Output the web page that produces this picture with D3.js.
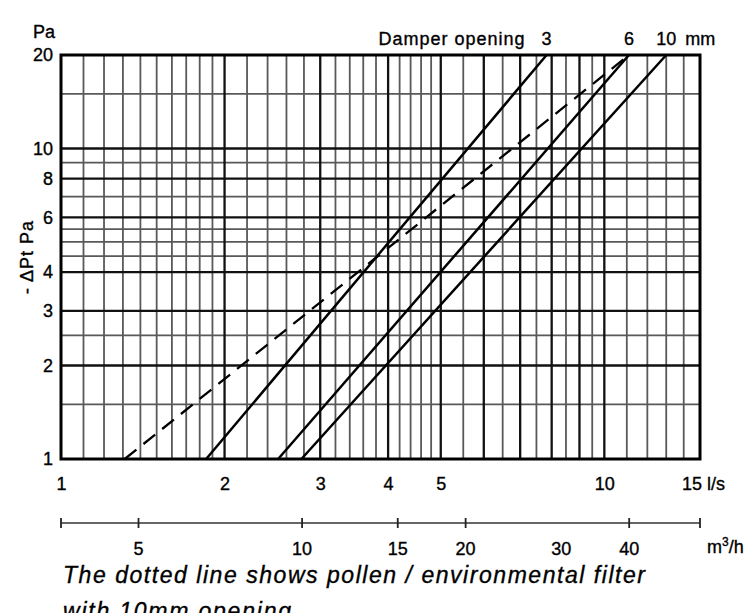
<!DOCTYPE html>
<html>
<head>
<meta charset="utf-8">
<script src="https://cdn.jsdelivr.net/npm/d3@7"></script>
<style>
body { margin: 0; background: #fff; }
svg { display: block; font-family: "Liberation Sans", Arial, sans-serif; }
svg text { fill: #000; stroke: #000; stroke-width: 0.35px; }
</style>
</head>
<body>
<svg></svg>
<script>
// ====== données ====== //
// débit (l/s) - axe horizontal
const flowLabels = [1, 2, 3, 4, 5, 10];
const flowMajor = [2, 3, 4, 5, 6, 7, 8, 9, 10];
const flowMinor = [1.1, 1.2, 1.3, 1.4, 1.5, 1.6, 1.7, 1.8, 1.9,
                   2.2, 2.4, 2.6, 2.8, 3.2, 3.4, 3.6, 3.8,
                   4.2, 4.4, 4.6, 4.8, 5.5, 6.5, 7.5, 8.5, 9.5,
                   11, 12, 13, 14];

// pression (Pa) - axe vertical
const pressureLabels = [1, 2, 3, 4, 6, 8, 10, 20];
const pressureMajor = [2, 3, 4, 6, 8, 10];
const pressureMinor = [1.5, 2.5, 4.5, 5, 5.5, 7, 9, 15];

// second axe en m3/h
const m3hTicks = [5, 10, 15, 20, 40];
const m3hLabels = [5, 10, 15, 20, 30, 40];

// courbes [débit l/s, pression Pa]
const damperOpening = ["3", "6", "10"];
const damper3 = [[1.85, 1], [7.83, 20]];
const damper6 = [[2.51, 1], [11.1, 20]];
const damper10 = [[2.77, 1], [13.0, 20]];
const pollenFilter = [[1.31, 1], [11.1, 20]];   // ligne pointillée

// ====== constantes ====== //
const width = 753;
const height = 613;

const svg = d3.select("svg")
    .attr("width", width)
    .attr("height", height);

const x = d3.scaleLog().domain([1, 15]).range([61, 700]);
const y = d3.scaleLog().domain([1, 20]).range([459, 55]);
const xm = d3.scaleLog().domain([3.6, 54]).range([61, 700]); // 1 l/s = 3.6 m3/h

// grille mineure
const grid = svg.append("g");
grid.selectAll(".vmin").data(flowMinor).enter().append("line")
    .attr("x1", d => x(d)).attr("x2", d => x(d))
    .attr("y1", y(1)).attr("y2", y(20))
    .attr("stroke", "#595959").attr("stroke-width", 1.8);
grid.selectAll(".hmin").data(pressureMinor).enter().append("line")
    .attr("x1", x(1)).attr("x2", x(15))
    .attr("y1", d => y(d)).attr("y2", d => y(d))
    .attr("stroke", "#595959").attr("stroke-width", 1.8);

// grille majeure
grid.selectAll(".vmaj").data(flowMajor).enter().append("line")
    .attr("x1", d => x(d)).attr("x2", d => x(d))
    .attr("y1", y(1)).attr("y2", y(20))
    .attr("stroke", "#111").attr("stroke-width", 2.3);
grid.selectAll(".hmaj").data(pressureMajor).enter().append("line")
    .attr("x1", x(1)).attr("x2", x(15))
    .attr("y1", d => y(d)).attr("y2", d => y(d))
    .attr("stroke", "#111").attr("stroke-width", 2.3);

// cadre
svg.append("rect")
    .attr("x", x(1)).attr("y", y(20))
    .attr("width", x(15) - x(1)).attr("height", y(1) - y(20))
    .attr("fill", "none").attr("stroke", "#000").attr("stroke-width", 3);

// courbes
const line = d3.line().x(d => x(d[0])).y(d => y(d[1]));
const curves = [damper3, damper6, damper10];
svg.selectAll(".curve").data(curves).enter().append("path")
    .attr("d", line)
    .attr("fill", "none").attr("stroke", "#000").attr("stroke-width", 2.5);
svg.append("path")
    .attr("d", line(pollenFilter))
    .attr("fill", "none").attr("stroke", "#000").attr("stroke-width", 2.3)
    .attr("stroke-dasharray", "15,9");

// axe Y
const yAxis = svg.append("g")
    .attr("transform", `translate(${x(1)},0)`)
    .call(d3.axisLeft(y).tickValues(pressureLabels).tickSize(0).tickPadding(8).tickFormat(d3.format("d")));
yAxis.select(".domain").remove();
yAxis.selectAll("text").attr("font-size", 18)
    .attr("font-family", "Liberation Sans, Arial, sans-serif");

svg.append("text").attr("x", 55).attr("y", 38).attr("text-anchor", "end")
    .attr("font-size", 18).text("Pa");
svg.append("text")
    .attr("transform", "translate(33,257) rotate(-90)")
    .attr("text-anchor", "middle").attr("font-size", 18)
    .attr("letter-spacing", 1)
    .text("- \u0394Pt Pa");

// axe X (l/s)
const xAxis = svg.append("g")
    .attr("transform", `translate(0,${y(1)})`)
    .call(d3.axisBottom(x).tickValues(flowLabels).tickSize(0).tickPadding(18).tickFormat(d3.format("d")));
xAxis.select(".domain").remove();
xAxis.selectAll("text").attr("font-size", 18)
    .attr("font-family", "Liberation Sans, Arial, sans-serif");
svg.append("text").attr("x", x(15) - 18).attr("y", 490)
    .attr("font-size", 18).text("15 l/s");

// axe m3/h
const mAxis = svg.append("g").attr("transform", "translate(0,523)");
mAxis.append("line").attr("x1", xm(3.6)).attr("x2", xm(54))
    .attr("stroke", "#333").attr("stroke-width", 1.5);
mAxis.selectAll(".mt").data([3.6, ...m3hTicks, 54]).enter().append("line")
    .attr("x1", d => xm(d)).attr("x2", d => xm(d))
    .attr("y1", -5).attr("y2", 5)
    .attr("stroke", "#222").attr("stroke-width", 1.8);
mAxis.selectAll(".ml").data(m3hLabels).enter().append("text")
    .attr("x", d => xm(d)).attr("y", 32)
    .attr("text-anchor", "middle").attr("font-size", 18)
    .text(d => d);
const mUnit = mAxis.append("text").attr("x", 707).attr("y", 30).attr("font-size", 18);
mUnit.append("tspan").text("m");
mUnit.append("tspan").attr("font-size", 12).attr("dy", -7).text("3");
mUnit.append("tspan").attr("dy", 7).text("/h");

// ouverture du registre
svg.append("text").attr("x", x(damper3[1][0]) - 22).attr("y", 45)
    .attr("text-anchor", "end").attr("font-size", 18)
    .attr("textLength", 146).attr("lengthAdjust", "spacing")
    .text("Damper opening");
const tops = [damper3, damper6, damper10];
svg.selectAll(".dl").data(tops).enter().append("text")
    .attr("x", d => x(d[1][0])).attr("y", 45)
    .attr("text-anchor", "middle").attr("font-size", 18)
    .text((d, i) => damperOpening[i]);
svg.append("text").attr("x", x(damper10[1][0]) + 19).attr("y", 45)
    .attr("font-size", 18).text("mm");

// légende en bas (la 2e ligne est coupée par le bord, comme sur l'original)
svg.append("text").attr("x", 63).attr("y", 583)
    .attr("font-size", 23).attr("font-style", "italic")
    .attr("textLength", 582).attr("lengthAdjust", "spacing")
    .text("The dotted line shows pollen / environmental filter");
svg.append("text").attr("x", 63).attr("y", 619)
    .attr("font-size", 23).attr("font-style", "italic")
    .attr("textLength", 228).attr("lengthAdjust", "spacing")
    .text("with 10mm opening");
</script>
</body>
</html>
